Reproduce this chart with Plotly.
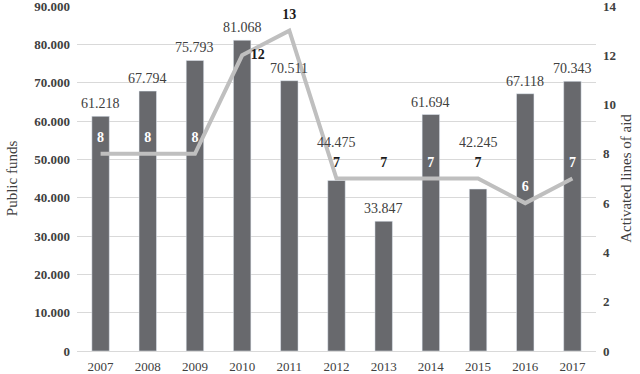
import plotly.graph_objects as go

years = [2007, 2008, 2009, 2010, 2011, 2012, 2013, 2014, 2015, 2016, 2017]
public_funds = [61218, 67794, 75793, 81068, 70511, 44475, 33847, 61694, 42245, 67118, 70343]
lines_of_aid = [8, 8, 8, 12, 13, 7, 7, 7, 7, 6, 7]

# label styling (not data)
bar_label_shift = [0, 0, 0, 0, 0, 26, 0, 0, 34, 0, 0]
line_text_pos = ["top center"] * 3 + ["middle right"] + ["top center"] * 7
line_text_col = ["white", "white", "white", "#1a1a1a", "#1a1a1a", "#1a1a1a", "#1a1a1a",
                 "white", "#1a1a1a", "white", "white"]

FONT = "Liberation Serif"
BAR = "#68696d"
LINE = "#bfbfbf"
GRID = "#d9d9d9"

fig = go.Figure()
fig.add_trace(go.Bar(x=years, y=public_funds, marker_color=BAR, width=0.37,
                     yaxis="y", showlegend=False, hoverinfo="skip"))
fig.add_trace(go.Scatter(x=years, y=lines_of_aid, yaxis="y2", mode="lines+markers+text",
                         line=dict(color=LINE, width=4),
                         marker=dict(size=12, opacity=0),
                         text=[str(v) for v in lines_of_aid],
                         textposition=line_text_pos,
                         textfont=dict(family=FONT, size=14, color=line_text_col, weight="bold"),
                         showlegend=False, hoverinfo="skip", cliponaxis=False))

annotations = []
for yr, v, s in zip(years, public_funds, bar_label_shift):
    annotations.append(dict(x=yr, y=v, xref="x", yref="y", yanchor="bottom",
                            text=f"{v:,}".replace(",", "."), showarrow=False,
                            yshift=3 + s, font=dict(family=FONT, size=14, color="#404040")))

fig.update_layout(
    width=640, height=374,
    margin=dict(l=77, r=44, t=6, b=23, autoexpand=False),
    paper_bgcolor="white", plot_bgcolor="white",
    separators=",.",
    font=dict(family=FONT, size=13, color="#404040"),
    annotations=annotations,
    xaxis=dict(range=[years[0] - 0.5, years[-1] + 0.5], tickvals=years,
               ticktext=[str(y) for y in years], showgrid=False, zeroline=False,
               showline=True, linecolor=GRID, linewidth=1, automargin=False,
               ticks="", ticklabelstandoff=3,
               tickfont=dict(family=FONT, size=13, color="#404040")),
    yaxis=dict(range=[0, 90000], dtick=10000, tickformat=",.0f", showgrid=True,
               gridcolor=GRID, zeroline=False, ticks="", automargin=False,
               ticklabeloverflow="allow", ticklabelstandoff=6,
               tickfont=dict(family=FONT, size=13, color="#404040", weight="bold"),
               title=dict(text="Public funds", font=dict(family=FONT, size=15, color="#404040"),
                          standoff=13)),
    yaxis2=dict(range=[0, 14], dtick=2, overlaying="y", side="right", showgrid=False,
                zeroline=False, ticks="", automargin=False,
                ticklabeloverflow="allow", ticklabelstandoff=6,
                tickfont=dict(family=FONT, size=13, color="#404040", weight="bold"),
                title=dict(text="Activated lines of aid",
                           font=dict(family=FONT, size=15, color="#404040"), standoff=4)),
)

fig.write_html("out.html", config={"displayModeBar": False},
               post_script="document.body.style.margin='0';")
